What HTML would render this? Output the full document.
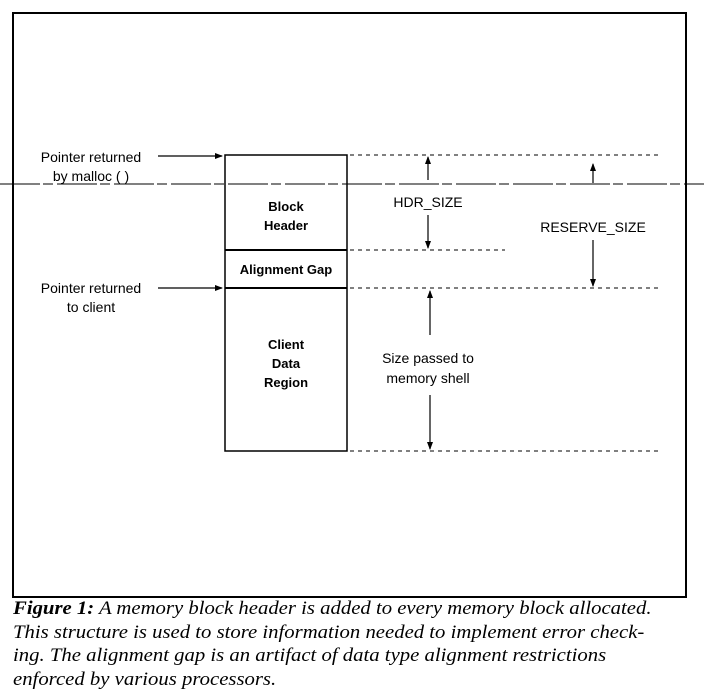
<!DOCTYPE html>
<html><head><meta charset="utf-8"><style>
html,body{margin:0;padding:0;background:#fff;width:704px;height:696px;overflow:hidden}
svg text{font-family:"Liberation Sans",sans-serif;fill:#000}
.cap{position:absolute;left:13px;top:598px;font-family:"Liberation Serif",serif;font-style:italic;font-size:18.5px;line-height:23.5px;color:#000;white-space:nowrap;transform:scaleX(1.12);transform-origin:0 0}
</style></head><body>
<svg width="704" height="696" style="position:absolute;left:0;top:0">
<defs><marker id="a" markerWidth="8" markerHeight="8" refX="7" refY="4" orient="auto" markerUnits="userSpaceOnUse"><path d="M0,1 L8,4 L0,7z" fill="#000"/></marker></defs>
<rect x="13" y="13" width="673" height="584" fill="none" stroke="#000" stroke-width="2"/>
<rect x="225" y="155" width="122" height="296" fill="none" stroke="#000" stroke-width="1.5"/>
<line x1="225" y1="250" x2="347" y2="250" stroke="#000" stroke-width="2"/>
<line x1="225" y1="288" x2="347" y2="288" stroke="#000" stroke-width="2"/>
<line x1="0" y1="184" x2="704" y2="184" stroke="#000" stroke-width="1" stroke-dasharray="40 3 10 4"/>
<g stroke="#000" stroke-width="1" stroke-dasharray="4 4">
<line x1="350" y1="155" x2="662" y2="155"/>
<line x1="350" y1="250" x2="505" y2="250"/>
<line x1="350" y1="288" x2="662" y2="288"/>
<line x1="350" y1="451" x2="662" y2="451"/>
</g>
<g stroke="#000" stroke-width="1.2" fill="none">
<line x1="158" y1="156" x2="222" y2="156" marker-end="url(#a)"/>
<line x1="158" y1="288" x2="222" y2="288" marker-end="url(#a)"/>
<line x1="428" y1="180" x2="428" y2="157" marker-end="url(#a)"/>
<line x1="428" y1="215" x2="428" y2="248" marker-end="url(#a)"/>
<line x1="593" y1="183" x2="593" y2="164" marker-end="url(#a)"/>
<line x1="593" y1="240" x2="593" y2="286" marker-end="url(#a)"/>
<line x1="430" y1="335" x2="430" y2="291" marker-end="url(#a)"/>
<line x1="430" y1="395" x2="430" y2="449" marker-end="url(#a)"/>
</g>
<g font-size="14">
<text x="91" y="162" text-anchor="middle">Pointer returned</text>
<text x="91" y="181" text-anchor="middle">by malloc ( )</text>
<text x="91" y="293" text-anchor="middle">Pointer returned</text>
<text x="91" y="312" text-anchor="middle">to client</text>
<text x="428" y="207" text-anchor="middle">HDR_SIZE</text>
<text x="593" y="232" text-anchor="middle">RESERVE_SIZE</text>
<text x="428" y="363" text-anchor="middle">Size passed to</text>
<text x="428" y="383" text-anchor="middle">memory shell</text>
</g>
<g font-size="13" font-weight="bold" text-anchor="middle">
<text x="286" y="211">Block</text>
<text x="286" y="230">Header</text>
<text x="286" y="274">Alignment Gap</text>
<text x="286" y="349">Client</text>
<text x="286" y="368">Data</text>
<text x="286" y="387">Region</text>
</g>
</svg>
<div class="cap"><b>Figure 1:</b> A memory block header is added to every memory block allocated.<br>This structure is used to store information needed to implement error check-<br>ing. The alignment gap is an artifact of data type alignment restrictions<br>enforced by various processors.</div>
</body></html>
